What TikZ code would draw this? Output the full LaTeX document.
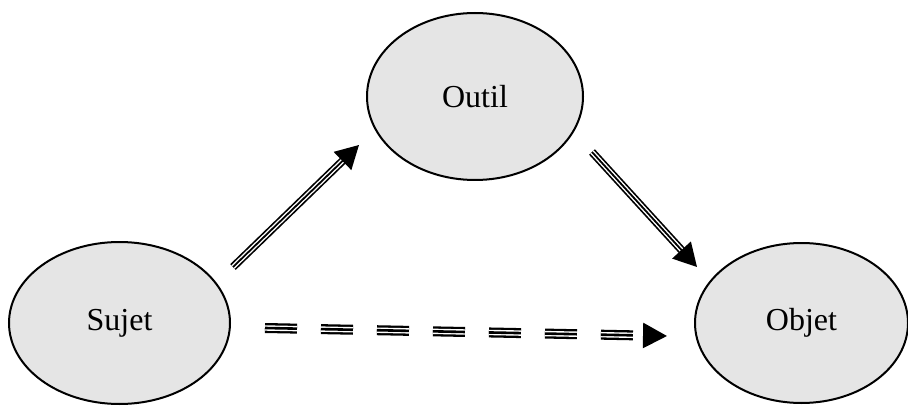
\documentclass[tikz,border=0pt]{standalone}
\usepackage{fontspec}
\setmainfont{Liberation Serif}
\usetikzlibrary{shapes.geometric,arrows.meta,calc}
\tikzset{
  bubble/.style={ellipse, draw=black, line width=2pt, fill=black!10, inner sep=0pt,
    font=\fontsize{32}{36}\selectfont},
  tripleline/.style={draw=black, line width=8pt, shorten >=18pt,
    postaction={draw=white, line width=4.6pt, shorten >=18pt},
    postaction={draw=black, line width=1.8pt, shorten >=0pt,
      -{Triangle[length=23pt,width=25pt]}}},
  tripledash/.style={draw=black, line width=10pt, dash pattern=on 32pt off 24pt, shorten >=18pt,
    postaction={draw=white, line width=5.4pt, dash pattern=on 32pt off 24pt, shorten >=18pt},
    postaction={draw=black, line width=2.6pt, dash pattern=on 32pt off 24pt, shorten >=0pt,
      -{Triangle[length=24pt,width=25pt]}}}
}
\begin{document}
\begin{tikzpicture}[x=1pt,y=1pt]
\useasboundingbox (0,0) rectangle (908,405);
\node[bubble, minimum width=221pt, minimum height=162pt] (sujet) at (119.5,82) {Sujet};
\node[bubble, minimum width=216pt, minimum height=167pt] (outil) at (475,308.5) {Outil};
\node[bubble, minimum width=213pt, minimum height=160pt] (objet) at (801.5,82) {Objet};
\path[tripleline] ($(sujet.center)+(113.5,56)$) -- ($(outil.center)+(-116,-48.5)$);
\path[tripleline] ($(outil.center)+(117,-55.5)$) -- ($(objet.center)+(-104.5,56)$);
\path[tripledash] ($(sujet.center)+(145.5,-5)$) -- ($(objet.center)+(-134.5,-13)$);
\end{tikzpicture}
\end{document}
